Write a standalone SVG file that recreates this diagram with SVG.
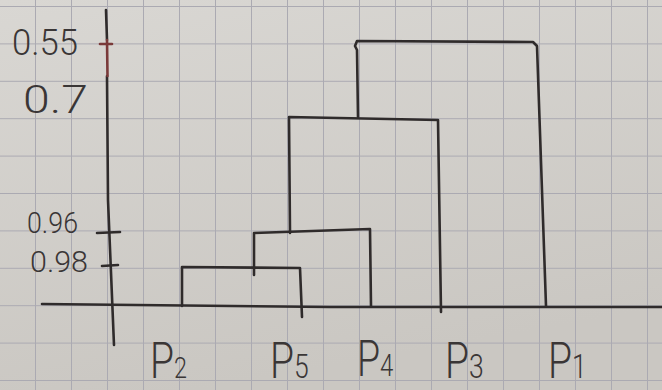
<svg xmlns="http://www.w3.org/2000/svg" width="662" height="390" viewBox="0 0 662 390">
<defs>
<linearGradient id="paper" x1="0" y1="0" x2="0.3" y2="1">
<stop offset="0" stop-color="#d9d7d3"/>
<stop offset="1" stop-color="#cac7c2"/>
</linearGradient>
<pattern id="grid" x="-1" y="6" width="36" height="37.4" patternUnits="userSpaceOnUse">
<path d="M0 0 V37.4 M0 0 H36" fill="none" stroke="#abaab2" stroke-width="2"/>
</pattern>
</defs>
<style>
.ink{fill:none;stroke:#2f2b2b;stroke-width:2.6;stroke-linecap:round;stroke-linejoin:round}
.red{fill:none;stroke:#7a3a3a;stroke-width:2.6;stroke-linecap:round}
.hand{font-family:Roboto,"Liberation Sans",Arial,sans-serif;font-weight:300;fill:#3a3636}
</style>
<rect width="662" height="390" fill="url(#paper)"/>
<rect width="662" height="390" fill="url(#grid)"/>

<g id="axes">
<path class="ink" d="M106 10 L107 40 M107 76 L108 200 L114 345"/>
<path class="red" d="M107 40 L107.5 76"/>
<path class="ink" d="M42 304 L330 307 L662 307"/>
<path class="red" d="M100 44 L112 44"/>
<path class="ink" d="M97 233 L120 232 M102 266 L118 265"/>
<text class="hand" x="12" y="55" font-size="37" textLength="66" lengthAdjust="spacingAndGlyphs">0.55</text>
<text class="hand" x="23" y="113" font-size="38" textLength="65" lengthAdjust="spacingAndGlyphs">0.7</text>
<text class="hand" x="27" y="233" font-size="29" textLength="51" lengthAdjust="spacingAndGlyphs">0.96</text>
<text class="hand" x="30" y="272" font-size="30" textLength="58" lengthAdjust="spacingAndGlyphs">0.98</text>
</g>

<g id="leaf-P2"><text class="hand" transform="translate(150 378) scale(0.78 1)" font-size="50">P<tspan font-size="30">2</tspan></text></g>
<g id="leaf-P5"><text class="hand" transform="translate(270 378) scale(0.78 1)" font-size="50">P<tspan font-size="34">5</tspan></text></g>
<g id="leaf-P4"><text class="hand" transform="translate(357 376) scale(0.75 1)" font-size="50">P<tspan font-size="32">4</tspan></text></g>
<g id="leaf-P3"><text class="hand" transform="translate(445 378) scale(0.78 1)" font-size="50">P<tspan font-size="34">3</tspan></text></g>
<g id="leaf-P1"><text class="hand" transform="translate(548 378) scale(0.78 1)" font-size="50">P<tspan font-size="34">1</tspan></text></g>

<g id="connectors">
<path class="ink" d="M182 306 L182 267 L300 268 L302 317"/>
<path class="ink" d="M254 275 L254 233 L370 229 L371 306"/>
<path class="ink" d="M290 233 L289 117 L438 120 L441 312"/>
<path class="ink" d="M358 117 L357 50 L355 46 L357 41 L533 42 L537 46 L546 306"/>
</g>
</svg>
